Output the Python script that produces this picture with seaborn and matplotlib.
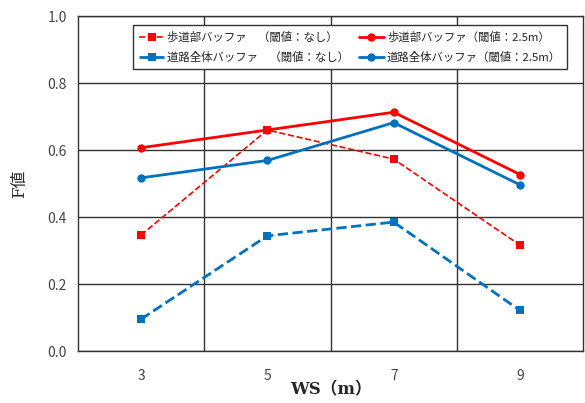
import numpy as np
import pandas as pd
import matplotlib
matplotlib.use('Agg')
import matplotlib.pyplot as plt
import seaborn as sns

sns.set_style('white')
plt.rcParams['font.family'] = ['Noto Sans CJK JP', 'DejaVu Sans']

# データ
ws = ['3', '5', '7', '9']
hodo_nashi = [0.346, 0.660, 0.573, 0.316]
hodo_25 = [0.607, 0.660, 0.713, 0.527]
doro_nashi = [0.095, 0.344, 0.385, 0.121]
doro_25 = [0.517, 0.569, 0.682, 0.496]

labels = ['歩道部バッファ　（閾値：なし）', '歩道部バッファ（閾値：2.5m）',
          '道路全体バッファ　（閾値：なし）', '道路全体バッファ（閾値：2.5m）']

red = '#FF0000'
blue = '#0070C0'

fig = plt.figure(figsize=(5.85, 4.03), dpi=100)
ax = fig.add_axes([0.133, 0.129, 0.864, 0.831])

x = np.arange(len(ws))
series = [
    (hodo_nashi, red, '--', 's', 1.2, labels[0]),
    (hodo_25, red, '-', 'o', 2.0, labels[1]),
    (doro_nashi, blue, '--', 's', 2.0, labels[2]),
    (doro_25, blue, '-', 'o', 2.0, labels[3]),
]
for vals, c, ls, mk, lw, lab in series:
    sns.lineplot(x=x, y=vals, ax=ax, color=c, linestyle=ls, marker=mk,
                 markersize=6, markeredgewidth=0, linewidth=lw, label=lab)

ax.set_xlim(-0.5, 3.5)
ax.set_ylim(0, 1.0)
ax.set_xticks(x)
ax.set_xticklabels(ws)
ax.set_yticks(np.arange(0, 1.01, 0.2))
ax.set_yticklabels(['%.1f' % v for v in np.arange(0, 1.01, 0.2)])
ax.set_xticks([0.5, 1.5, 2.5], minor=True)
ax.grid(True, which='major', axis='y', color='#333333', linewidth=1.0)
ax.grid(True, which='minor', axis='x', color='#333333', linewidth=1.0)
ax.set_axisbelow(True)
for s in ax.spines.values():
    s.set_color('#333333')
    s.set_linewidth(1.0)
ax.tick_params(axis='both', which='both', length=0, labelsize=10, colors='#444444')
ax.tick_params(axis='x', pad=13)
ax.tick_params(axis='y', pad=8)

ax.set_ylabel('F値', fontsize=12, family=['DejaVu Serif', 'Noto Sans CJK JP'], labelpad=14)
ax.set_xlabel('WS（m）', fontsize=12, fontweight='bold',
              family=['DejaVu Serif', 'Noto Sans CJK JP'], labelpad=-1)

h, l = ax.get_legend_handles_labels()
order = [0, 2, 1, 3]
leg = ax.legend([h[i] for i in order], [l[i] for i in order], ncol=2,
                loc='upper right', bbox_to_anchor=(0.98, 0.99), fontsize=8.2,
                frameon=True, fancybox=False, edgecolor='#333333',
                framealpha=1, handlelength=2.2, handletextpad=0.3,
                columnspacing=0.8, borderpad=0.55, labelspacing=0.75)
leg.get_frame().set_linewidth(1.0)

fig.savefig('out.png', dpi=100)
